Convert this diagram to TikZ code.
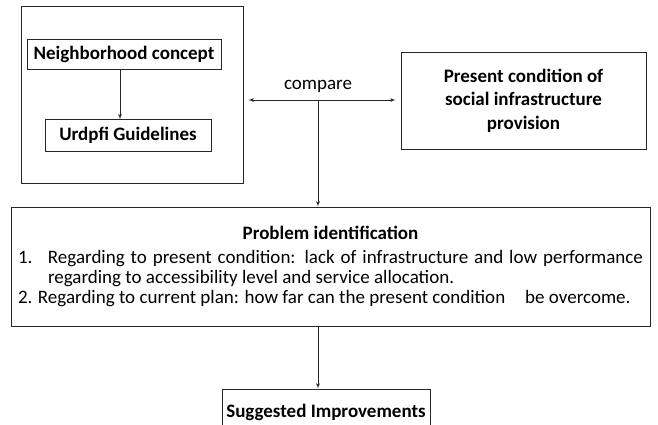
\documentclass[tikz,border=0pt]{standalone}
\usepackage{fontspec}
\setmainfont{Carlito}
\usepackage{tikz}
\usetikzlibrary{shapes.geometric, arrows, positioning}

\begin{document}
\begin{tikzpicture}[x=1pt, y=1pt, node distance=50pt, auto]
    % Styles
    \tikzset{
        cadre/.style  = {rectangle, draw=black!85, line width=0.8pt, inner sep=0pt},
        bloc/.style   = {rectangle, draw=black!85, line width=0.8pt, font=\bfseries\fontsize{19}{23.5}\selectfont, align=center, inner sep=2pt},
        probleme/.style = {rectangle, draw=black!85, line width=0.8pt, text width=625pt, inner xsep=7pt, inner ysep=0pt, minimum height=119pt, font=\fontsize{19}{19.8}\selectfont, align=justify},
        line/.style   = {draw=black!85, line width=0.8pt, -latex'}
    }

    \clip (0,0) rectangle (658,425);

    % Cadre de gauche et ses deux blocs
    \node [cadre, minimum width=222pt, minimum height=177pt] (cadre) at (132,330.5) {};
    \node [bloc, minimum width=194pt, minimum height=30pt] (concept) at (124,371) {Neighborhood concept};
    \node [bloc, minimum width=166pt, minimum height=32pt, below=50pt of concept, xshift=4pt] (urdpfi) {Urdpfi Guidelines};

    % Etat actuel
    \node [bloc, minimum width=245pt, minimum height=97pt] (etat) at (523.5,324.5) {Present condition of\\social infrastructure\\provision};

    % Point de comparaison
    \coordinate (comp) at (318,325);
    \node [font=\fontsize{19}{23}\selectfont, above=4pt] at (comp) {compare};

    % Identification des problemes
    \node [probleme] (probleme) at (330.5,158.5) {%
        {\centering\textbf{Problem identification}\par}
        \vspace{4pt}
        \noindent\hangindent=30pt\hangafter=1\makebox[30pt][l]{1.}Regarding to present condition: lack of infrastructure and low performance\linebreak regarding to accessibility level and service allocation.\par
        \noindent\makebox[20pt][l]{2.}Regarding to current plan: how far can the present condition\hspace{20pt}be overcome.\par
        \vspace{16pt}};

    % Ameliorations
    \node [bloc, minimum width=208pt, minimum height=46pt] (ameliorations) at (326,13) {Suggested Improvements};

    % Connexions
    \path [line] ([xshift=-4pt]concept.south) -- ([xshift=-4pt]concept.south |- urdpfi.north);
    \path [line, latex'-latex', shorten <=5pt, shorten >=5pt] (comp -| cadre.east) -- (comp -| etat.west);
    \path [line] (comp) -- (comp |- probleme.north);
    \path [line] (comp |- probleme.south) -- (comp |- ameliorations.north);
\end{tikzpicture}
\end{document}
